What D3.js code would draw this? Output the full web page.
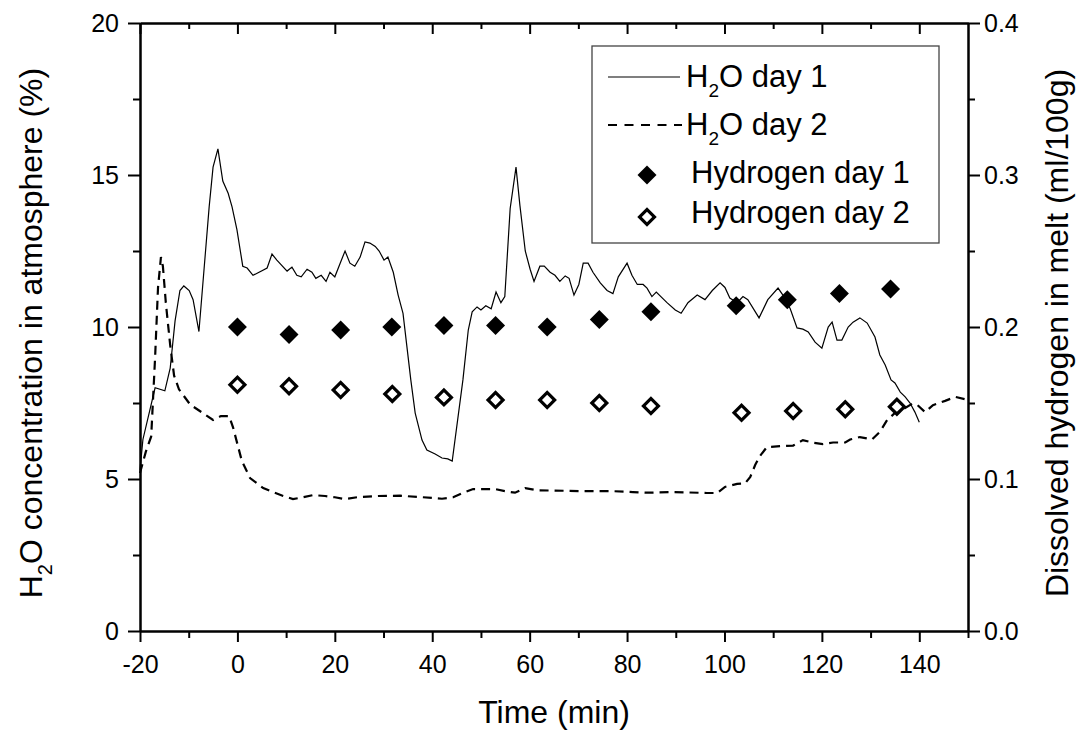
<!DOCTYPE html>
<html>
<head>
<meta charset="utf-8">
<script src="https://cdn.jsdelivr.net/npm/d3@7"></script>
<style>
  body { margin: 0; background: #fff; }
  svg { display: block; font-family: "Liberation Sans", Arial, sans-serif; }
</style>
</head>
<body>
<svg id="chart" width="1078" height="731"></svg>
<script>
// H2O in atmosphere, day 1 (solid line)
const day1Time = [-20, -19.4, -16.9, -14.9, -13.8, -12.8, -11.8, -11, -9.9, -9.1, -7.9, -5.8, -5, -4, -3, -1.9, -1.1, -0.1,
  1.1, 2, 3.2, 6.1, 7.1, 8.1, 10.2, 11.2, 12.2, 13.1, 14.3, 15.3, 16.1, 17.2, 18.2, 19, 20, 21.1, 22.1, 23.1, 24.1,
  25.2, 26.2, 27.2, 28.3, 29.1, 30.1, 30.9, 32, 33, 34, 35.6, 36.5, 37.9, 38.9, 40.6, 42, 43.2, 44.1, 46.3, 47.4,
  48.2, 49.2, 50, 51, 52.1, 53.1, 54.1, 54.9, 56, 57.2, 58, 59.1, 60.1, 60.9, 62.1, 63, 64.2, 65.2, 66.2, 67.3,
  68.1, 69.1, 70.1, 71, 72, 73, 74.5, 75.9, 77.1, 78.2, 80, 81, 82.1, 83.3, 84.1, 85.1, 86, 88.2, 89.9, 91.1,
  92.5, 94.4, 96, 97.5, 99.1, 100.1, 101.1, 102.6, 103.8, 104.8, 107.1, 108.9, 111, 112, 113.5, 114.9, 116.1,
  117.2, 118.6, 120, 121.3, 122.1, 123.1, 124.1, 125.4, 126.4, 127.8, 129.3, 130.9, 131.9, 133, 134.2, 135,
  136.1, 137.1, 138.1, 139.1, 140];
const day1H2O = [5.3, 6.3, 8.0, 7.9, 8.65, 10.2, 11.2, 11.35, 11.2, 10.9, 9.85, 13.95, 15.26, 15.86, 14.8, 14.4, 13.95, 13.2,
  12.0, 11.94, 11.7, 11.94, 12.4, 12.2, 11.84, 11.97, 11.7, 11.65, 11.9, 11.8, 11.6, 11.7, 11.5, 11.8, 11.65, 12.1,
  12.5, 12.1, 12.0, 12.3, 12.8, 12.76, 12.65, 12.5, 12.2, 12.3, 11.8, 11.05, 10.45, 8.26, 7.17, 6.28, 5.95, 5.82,
  5.69, 5.66, 5.59, 8.26, 9.9, 10.5, 10.66, 10.56, 10.7, 10.6, 11.15, 10.8, 11.0, 13.9, 15.26, 14.0, 12.5, 11.9,
  11.5, 12.0, 12.0, 11.8, 11.7, 11.5, 11.68, 11.6, 11.05, 11.4, 12.1, 12.1, 11.8, 11.45, 11.2, 11.1, 11.65, 12.1,
  11.7, 11.4, 11.4, 11.28, 11.0, 11.15, 10.8, 10.56, 10.45, 10.8, 11.05, 10.9, 11.2, 11.45, 11.3, 10.95, 10.8,
  11.0, 10.9, 10.3, 10.9, 11.28, 11.05, 10.6, 9.97, 9.93, 9.84, 9.5, 9.3, 10.0, 10.16, 9.57, 9.57, 10.0, 10.16,
  10.3, 10.13, 9.67, 9.08, 8.75, 8.26, 8.16, 7.86, 7.7, 7.5, 7.2, 6.87];

// H2O in atmosphere, day 2 (dashed line)
const day2Time = [-20, -18.8, -17.7, -16.9, -16.3, -15.7, -15.3, -14.7, -13.8, -13, -12, -9.7, -7.1, -5, -3.4, -1.7, -0.9,
  0.9, 2.6, 5.3, 7.3, 9.4, 11.4, 13.5, 15.5, 18, 20, 22.1, 24.6, 28.9, 33.4, 38.1, 42, 44.3, 46.1, 48.4, 52.9,
  54.9, 57, 59.1, 61.5, 71, 76.9, 81.2, 84.1, 89.4, 96.4, 98.5, 100.1, 102.6, 104.2, 105.3, 106.3, 107.3, 108.7,
  111.4, 114.1, 116.1, 118, 120.2, 122.3, 124.8, 125.8, 127.8, 130.3, 131.9, 133.4, 135, 136.7, 138.5, 139.5,
  141.2, 142.8, 145.3, 147.4, 150];
const day2H2O = [5.2, 5.9, 6.4, 9.0, 11.3, 12.3, 12.0, 10.8, 9.4, 8.4, 7.95, 7.45, 7.17, 6.94, 7.07, 7.07, 6.7,
  5.6, 5.03, 4.7, 4.57, 4.44, 4.34, 4.4, 4.47, 4.44, 4.4, 4.34, 4.4, 4.44, 4.45, 4.4, 4.35, 4.4, 4.53, 4.67, 4.67,
  4.6, 4.55, 4.7, 4.63, 4.6, 4.6, 4.57, 4.55, 4.57, 4.54, 4.54, 4.74, 4.84, 4.85, 5.07, 5.46, 5.76, 6.05, 6.08,
  6.1, 6.28, 6.2, 6.15, 6.2, 6.2, 6.3, 6.38, 6.3, 6.55, 6.94, 7.17, 7.3, 7.47, 7.45, 7.2, 7.43, 7.57, 7.7, 7.6];

// dissolved hydrogen in melt (right axis)
const hyd1Time = [0, 10.6, 21.2, 31.7, 42.4, 53, 63.6, 74.3, 84.9, 102.4, 112.9, 123.6, 134.1];
const hyd1Val = [0.200, 0.195, 0.198, 0.200, 0.201, 0.201, 0.200, 0.205, 0.210, 0.214, 0.218, 0.222, 0.225];
const hyd2Time = [0, 10.6, 21.2, 31.8, 42.4, 53, 63.6, 74.3, 84.9, 103.5, 114.1, 124.8, 135.4];
const hyd2Val = [0.162, 0.161, 0.1586, 0.156, 0.1537, 0.152, 0.152, 0.150, 0.148, 0.1436, 0.1447, 0.1459, 0.1476];

// ticks
const xMajor = [-20, 0, 20, 40, 60, 80, 100, 120, 140];
const xMinor = [-10, 10, 30, 50, 70, 90, 110, 130, 150];
const yMajor = [0, 5, 10, 15, 20];
const yMinor = [2.5, 7.5, 12.5, 17.5];
const y2Major = [0, 0.1, 0.2, 0.3, 0.4];
const y2Minor = [0.05, 0.15, 0.25, 0.35];

const svg = d3.select('#chart');
const plotLeft = 140, plotRight = 968, plotTop = 23, plotBottom = 631;

const x = d3.scaleLinear().domain([-20, 150]).range([plotLeft, plotRight]);
const y = d3.scaleLinear().domain([0, 20]).range([plotBottom, plotTop]);
const y2 = d3.scaleLinear().domain([0, 0.4]).range([plotBottom, plotTop]);

function styleAxis(g, size) {
  g.selectAll('path, line').attr('stroke', '#000').attr('stroke-width', 2);
  g.selectAll('text').attr('font-size', size).attr('fill', '#000')
    .attr('font-family', '"Liberation Sans", Arial, sans-serif');
}

// bottom axis
svg.append('g').attr('transform', `translate(0,${plotBottom})`)
  .call(d3.axisBottom(x).tickValues(xMajor).tickSize(11).tickSizeOuter(0).tickPadding(13).tickFormat(d => String(d)))
  .call(g => styleAxis(g, 25));
svg.append('g').attr('transform', `translate(0,${plotBottom})`)
  .call(d3.axisBottom(x).tickValues(xMinor).tickSize(7).tickSizeOuter(0).tickFormat(''))
  .call(g => styleAxis(g, 25));

// top axis, ticks pointing in
svg.append('g').attr('transform', `translate(0,${plotTop})`)
  .call(d3.axisBottom(x).tickValues(xMajor).tickSize(11).tickSizeOuter(0).tickFormat(''))
  .call(g => styleAxis(g, 25));
svg.append('g').attr('transform', `translate(0,${plotTop})`)
  .call(d3.axisBottom(x).tickValues(xMinor.slice(0, -1)).tickSize(6).tickSizeOuter(0).tickFormat(''))
  .call(g => styleAxis(g, 25));

// left axis
svg.append('g').attr('transform', `translate(${plotLeft},0)`)
  .call(d3.axisLeft(y).tickValues(yMajor).tickSize(12).tickSizeOuter(0).tickPadding(9).tickFormat(d => String(d)))
  .call(g => styleAxis(g, 25));
svg.append('g').attr('transform', `translate(${plotLeft},0)`)
  .call(d3.axisLeft(y).tickValues(yMinor).tickSize(7).tickSizeOuter(0).tickFormat(''))
  .call(g => styleAxis(g, 25));

// right axis
svg.append('g').attr('transform', `translate(${plotRight},0)`)
  .call(d3.axisRight(y2).tickValues(y2Major).tickSize(12).tickSizeOuter(0).tickPadding(4).tickFormat(d3.format('.1f')))
  .call(g => styleAxis(g, 25));
svg.append('g').attr('transform', `translate(${plotRight},0)`)
  .call(d3.axisRight(y2).tickValues(y2Minor).tickSize(7).tickSizeOuter(0).tickFormat(''))
  .call(g => styleAxis(g, 25));

// axis titles
svg.append('text').attr('x', (plotLeft + plotRight) / 2).attr('y', 723)
  .attr('text-anchor', 'middle').attr('font-size', 32).text('Time (min)');

const yTitle = svg.append('text').attr('transform', 'translate(42,333) rotate(-90)')
  .attr('text-anchor', 'middle').attr('font-size', 32);
yTitle.append('tspan').text('H');
yTitle.append('tspan').attr('font-size', 20).attr('dy', 10).text('2');
yTitle.append('tspan').attr('dy', -10).text('O concentration in atmosphere (%)');

svg.append('text').attr('transform', 'translate(1068,333) rotate(-90)')
  .attr('text-anchor', 'middle').attr('font-size', 32).text('Dissolved hydrogen in melt (ml/100g)');

// lines
const line = d3.line().x(d => x(d[0])).y(d => y(d[1]));
const day1 = day1Time.map((t, i) => [t, day1H2O[i]]);
const day2 = day2Time.map((t, i) => [t, day2H2O[i]]);

svg.append('path').datum(day1).attr('d', line)
  .attr('fill', 'none').attr('stroke', '#000').attr('stroke-width', 1.2);
svg.append('path').datum(day2).attr('d', line)
  .attr('fill', 'none').attr('stroke', '#000').attr('stroke-width', 2.2).attr('stroke-dasharray', '9,6');

// hydrogen markers
const diamond = d3.symbol(d3.symbolSquare, 180)();
const diamondOpen = d3.symbol(d3.symbolSquare, 112)();

svg.append('g').selectAll('path').data(hyd1Time).enter().append('path')
  .attr('d', diamond)
  .attr('transform', (d, i) => `translate(${x(d)},${y2(hyd1Val[i])}) rotate(45)`)
  .attr('fill', '#000');
svg.append('g').selectAll('path').data(hyd2Time).enter().append('path')
  .attr('d', diamondOpen)
  .attr('transform', (d, i) => `translate(${x(d)},${y2(hyd2Val[i])}) rotate(45)`)
  .attr('fill', '#fff').attr('stroke', '#000').attr('stroke-width', 3.2);

// legend
const legend = svg.append('g');
legend.append('rect').attr('x', 592).attr('y', 46).attr('width', 347).attr('height', 197)
  .attr('fill', '#fff').attr('stroke', '#444').attr('stroke-width', 1.3);

legend.append('line').attr('x1', 608).attr('x2', 680).attr('y1', 77).attr('y2', 77)
  .attr('stroke', '#000').attr('stroke-width', 1.2);
legend.append('line').attr('x1', 608).attr('x2', 682).attr('y1', 125).attr('y2', 125)
  .attr('stroke', '#000').attr('stroke-width', 2.2).attr('stroke-dasharray', '9,7.5');
legend.append('path').attr('d', diamond).attr('transform', 'translate(647,175) rotate(45)').attr('fill', '#000');
legend.append('path').attr('d', diamondOpen).attr('transform', 'translate(647,217) rotate(45)')
  .attr('fill', '#fff').attr('stroke', '#000').attr('stroke-width', 3.2);

function h2oLabel(yPos, text) {
  const t = legend.append('text').attr('x', 686).attr('y', yPos).attr('font-size', 31);
  t.append('tspan').text('H');
  t.append('tspan').attr('font-size', 19).attr('dy', 10).text('2');
  t.append('tspan').attr('dy', -10).text(text);
}
h2oLabel(87, 'O day 1');
h2oLabel(135, 'O day 2');
legend.append('text').attr('x', 691).attr('y', 183).attr('font-size', 31).text('Hydrogen day 1');
legend.append('text').attr('x', 691).attr('y', 223).attr('font-size', 31).text('Hydrogen day 2');
</script>
</body>
</html>
